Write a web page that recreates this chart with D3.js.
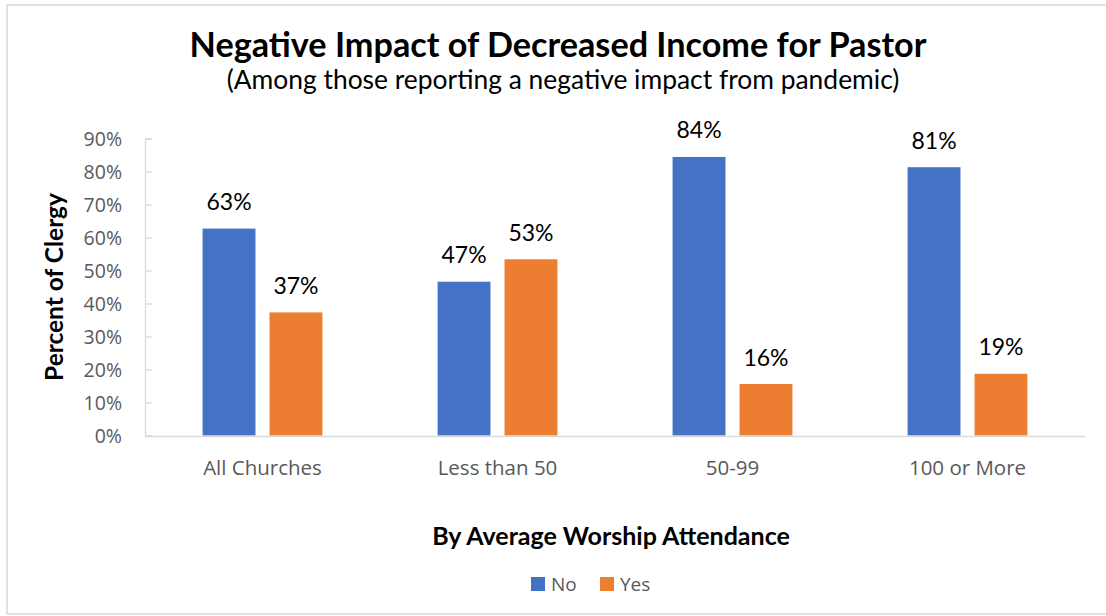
<!DOCTYPE html>
<html>
<head>
<meta charset="utf-8">
<script src="https://cdn.jsdelivr.net/npm/d3@7"></script>
<style>
  body { margin: 0; background: #fff; }
  svg { display: block; }
</style>
</head>
<body>
<svg id="chart"></svg>
<script>
// chart values
var categories = ["All Churches", "Less than 50", "50-99", "100 or More"];
var seriesNames = ["No", "Yes"];
var noValues = [62.7, 46.6, 84.4, 81.3];
var yesValues = [37.3, 53.4, 15.6, 18.7];
var yTicks = [0, 10, 20, 30, 40, 50, 60, 70, 80, 90];

var titleText = "Negative Impact of Decreased Income for Pastor";
var subtitleText = "(Among those reporting a negative impact from pandemic)";
var xTitle = "By Average Worship Attendance";
var yTitle = "Percent of Clergy";

var colors = {No: "#4472C4", Yes: "#ED7D31"};
var W = 1106, H = 616;
var plot = {left: 145, right: 1085, top: 138.5, bottom: 435.5};
var calibri = "Lato, 'Open Sans', sans-serif";
var segoe = "'Open Sans', 'Noto Sans', sans-serif";

var svg = d3.select("#chart").attr("width", W).attr("height", H);

//chart border
svg.append("rect")
  .attr("x", 7).attr("y", 5)
  .attr("width", W).attr("height", 609)
  .style("fill", "#fff")
  .style("stroke", "#d9d9d9")
  .style("stroke-width", 1.5);

var x = d3.scaleBand().domain(categories).range([plot.left, plot.right]);
var xs = d3.scaleBand().domain(seriesNames).range([0, x.bandwidth()])
  .paddingInner(0.21).paddingOuter(0.86);
var y = d3.scaleLinear().domain([0, 90]).range([plot.bottom, plot.top]);

var rows = categories.map(function(c, i){
  return {cat: c, values: [{s: "No", v: noValues[i]}, {s: "Yes", v: yesValues[i]}]};
});

//fit text to a measured width by scaling its font size
function fit(sel, target){
  var w = sel.node().getComputedTextLength();
  var fs = parseFloat(sel.style("font-size"));
  sel.style("font-size", (fs * target / w) + "px");
}

//Y axis
var yAxis = svg.append("g")
  .attr("transform", "translate(" + plot.left + ",0)")
  .call(d3.axisLeft(y).tickValues(yTicks).tickSize(-7).tickPadding(23)
    .tickFormat(function(d){ return d + "%"; }));
yAxis.select(".domain").style("stroke", "#d9d9d9").style("stroke-width", 1.3);
yAxis.selectAll(".tick line").style("stroke", "#d9d9d9").style("stroke-width", 1.3);
yAxis.selectAll(".tick text")
  .style("font-family", segoe).style("font-size", "19.5px").style("fill", "#595959")
  .attr("dy", "0.36em");

//bars
var groups = svg.selectAll(".grp").data(rows).enter().append("g")
  .attr("class", "grp")
  .attr("transform", function(d){ return "translate(" + x(d.cat) + ",0)"; });

groups.selectAll("rect").data(function(d){ return d.values; }).enter().append("rect")
  .attr("x", function(d){ return xs(d.s); })
  .attr("y", function(d){ return y(d.v); })
  .attr("width", xs.bandwidth())
  .attr("height", function(d){ return y(0) - y(d.v); })
  .style("fill", function(d){ return colors[d.s]; });

groups.selectAll(".lbl").data(function(d){ return d.values; }).enter().append("text")
  .attr("class", "lbl")
  .attr("x", function(d){ return xs(d.s) + xs.bandwidth() / 2; })
  .attr("y", function(d){ return y(d.v) - 18.5; })
  .style("text-anchor", "middle")
  .style("font-family", calibri).style("font-size", "23px").style("fill", "#000")
  .text(function(d){ return Math.round(d.v) + "%"; });

//X axis
var xAxis = svg.append("g")
  .attr("transform", "translate(0," + 436 + ")")
  .call(d3.axisBottom(x).tickSize(0).tickPadding(24));
xAxis.select(".domain").style("stroke", "#d9d9d9").style("stroke-width", 1.5);
xAxis.selectAll(".tick text")
  .style("font-family", segoe).style("font-size", "20.5px").style("fill", "#595959");

//titles
var t = svg.append("text")
  .attr("x", 558).attr("y", 56.5)
  .style("text-anchor", "middle")
  .style("font-family", calibri).style("font-weight", "bold").style("font-size", "28px")
  .text(titleText);
fit(t, 737);

var st = svg.append("text")
  .attr("x", 563).attr("y", 88.5)
  .style("text-anchor", "middle")
  .style("font-family", calibri).style("font-size", "23px")
  .text(subtitleText);
fit(st, 673);

var xt = svg.append("text")
  .attr("x", 611).attr("y", 545)
  .style("text-anchor", "middle")
  .style("font-family", calibri).style("font-weight", "bold").style("font-size", "20px")
  .text(xTitle);
fit(xt, 358);

var yt = svg.append("text")
  .attr("transform", "translate(63," + ((plot.top + plot.bottom) / 2) + ") rotate(-90)")
  .style("text-anchor", "middle")
  .style("font-family", calibri).style("font-weight", "bold").style("font-size", "20px")
  .text(yTitle);
fit(yt, 188);

//legend
var legend = svg.append("g").attr("transform", "translate(531,577)");
var legX = [0, 69];
seriesNames.forEach(function(s, i){
  legend.append("rect")
    .attr("x", legX[i]).attr("y", 0)
    .attr("width", 14).attr("height", 14)
    .style("fill", colors[s]);
  legend.append("text")
    .attr("x", legX[i] + 20).attr("y", 14)
    .style("font-family", segoe).style("font-size", "19px").style("fill", "#595959")
    .text(s);
});
</script>
</body>
</html>
